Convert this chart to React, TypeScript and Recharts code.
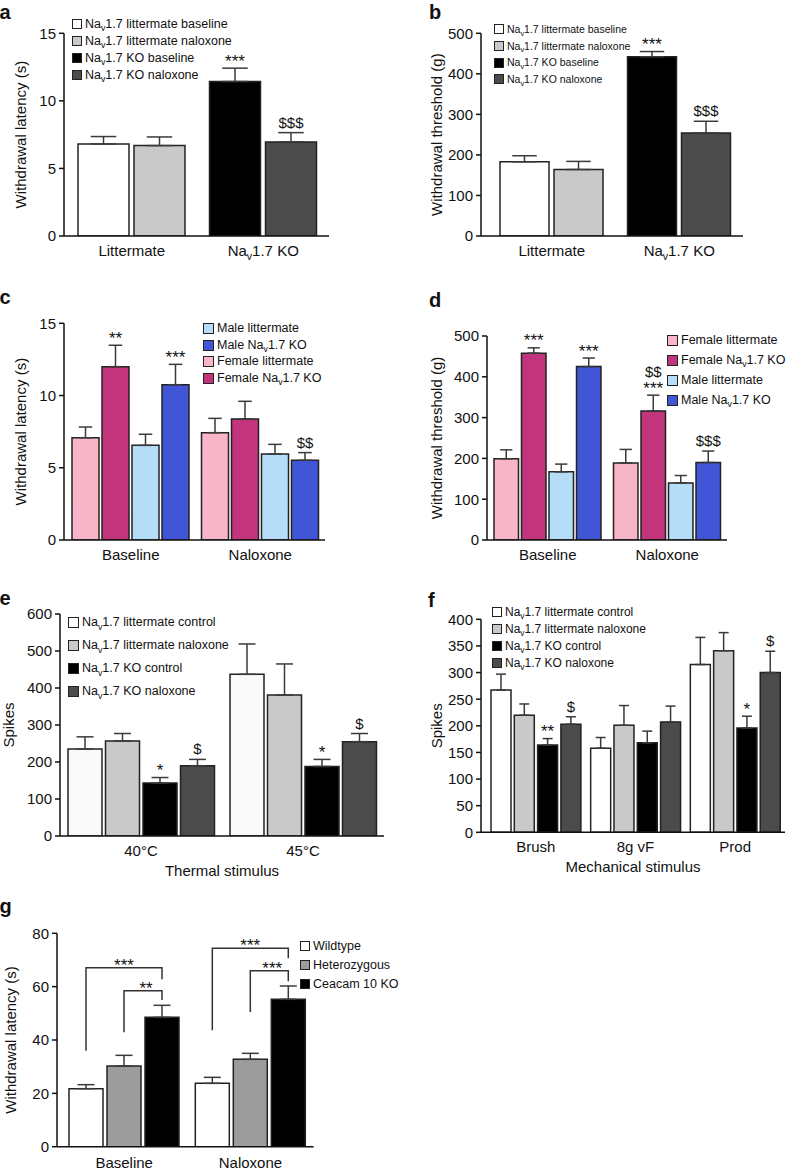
import React from 'react';
import { BarChart, Bar, XAxis, YAxis, ErrorBar, LabelList, Legend, Cell } from 'recharts';

const FONT = '"Liberation Sans", Arial, Helvetica, sans-serif';
const INK = '#111';

// ---------- colours
const WHITE = '#ffffff';
const LGRAY = '#c9c9c9';
const BLACK = '#000000';
const DGRAY = '#4b4b4b';
const PINK = '#f9b5c8';
const MAGENTA = '#c2347c';
const LBLUE = '#b6ddf7';
const BLUE = '#4156d6';
const MGRAY = '#9c9c9c';

// ---------- panel a (hot plate latency)
const aCategories = ['Littermate', 'Na_v1.7 KO'];
const aBaseline = [6.81, 11.43];
const aBaselineErr = [0.55, 0.99];
const aBaselineSig = ['', '***'];
const aNaloxone = [6.69, 6.96];
const aNaloxoneErr = [0.64, 0.69];
const aNaloxoneSig = ['', '$$$'];
const aTicks = [0, 5, 10, 15];
const abLegend = ['Na_v1.7 littermate baseline', 'Na_v1.7 littermate naloxone', 'Na_v1.7 KO baseline', 'Na_v1.7 KO naloxone'];

// ---------- panel b (Randall-Selitto threshold)
const bCategories = ['Littermate', 'Na_v1.7 KO'];
const bBaseline = [183, 442];
const bBaselineErr = [15, 13];
const bBaselineSig = ['', '***'];
const bNaloxone = [164, 254];
const bNaloxoneErr = [20, 29];
const bNaloxoneSig = ['', '$$$'];
const bTicks = [0, 100, 200, 300, 400, 500];

// ---------- panel c (latency by sex)
const cCategories = ['Baseline', 'Naloxone'];
const cFemaleLit = [7.08, 7.43];
const cFemaleLitErr = [0.74, 0.99];
const cFemaleKO = [12.0, 8.38];
const cFemaleKOErr = [1.48, 1.22];
const cFemaleKOSig = ['**', ''];
const cMaleLit = [6.55, 5.95];
const cMaleLitErr = [0.77, 0.67];
const cMaleKO = [10.75, 5.52];
const cMaleKOErr = [1.41, 0.53];
const cMaleKOSig = ['***', '$$'];
const cTicks = [0, 5, 10, 15];
const cLegend = ['Male littermate', 'Male Na_v1.7 KO', 'Female littermate', 'Female Na_v1.7 KO'];

// ---------- panel d (threshold by sex)
const dCategories = ['Baseline', 'Naloxone'];
const dFemaleLit = [199, 189];
const dFemaleLitErr = [22, 33];
const dFemaleKO = [458, 316];
const dFemaleKOErr = [13, 39];
const dFemaleKOSig = ['***', '$$\n***'];
const dMaleLit = [167, 140];
const dMaleLitErr = [19, 18];
const dMaleKO = [425, 190];
const dMaleKOErr = [21, 28];
const dMaleKOSig = ['***', '$$$'];
const dTicks = [0, 100, 200, 300, 400, 500];
const dLegend = ['Female littermate', 'Female Na_v1.7 KO', 'Male littermate', 'Male Na_v1.7 KO'];

// ---------- panel e (thermal spikes)
const eCategories = ['40°C', '45°C'];
const eLitCtrl = [235, 437];
const eLitCtrlErr = [33, 82];
const eLitNal = [257, 381];
const eLitNalErr = [20, 84];
const eKOCtrl = [143, 188];
const eKOCtrlErr = [15, 19];
const eKOCtrlSig = ['*', '*'];
const eKONal = [190, 255];
const eKONalErr = [17, 22];
const eKONalSig = ['$', '$'];
const eTicks = [0, 100, 200, 300, 400, 500, 600];
const efLegend = ['Na_v1.7 littermate control', 'Na_v1.7 littermate naloxone', 'Na_v1.7 KO control', 'Na_v1.7 KO naloxone'];

// ---------- panel f (mechanical spikes)
const fCategories = ['Brush', '8g vF', 'Prod'];
const fLitCtrl = [267, 158, 315];
const fLitCtrlErr = [30, 20, 51];
const fLitNal = [220, 201, 341];
const fLitNalErr = [21, 37, 34];
const fKOCtrl = [164, 168, 196];
const fKOCtrlErr = [12, 22, 22];
const fKOCtrlSig = ['**', '', '*'];
const fKONal = [203, 207, 300];
const fKONalErr = [14, 30, 40];
const fKONalSig = ['$', '', '$'];
const fTicks = [0, 50, 100, 150, 200, 250, 300, 350, 400];

// ---------- panel g (Ceacam10)
const gCategories = ['Baseline', 'Naloxone'];
const gWild = [21.75, 23.75];
const gWildErr = [1.5, 2.25];
const gHet = [30.25, 32.75];
const gHetErr = [4, 2.25];
const gKO = [48.5, 55.25];
const gKOErr = [4.5, 5];
const gTicks = [0, 20, 40, 60, 80];
const gLegend = ['Wildtype', 'Heterozygous', 'Ceacam 10 KO'];
// significance brackets (data units): wildtype vs KO, heterozygous vs KO
const gOuterTop = [67.1, 74.4];
const gOuterLeftEnd = [36, 43.7];
const gOuterRightEnd = [62.8, 70.6];
const gOuterSig = ['***', '***'];
const gInnerTop = [58.5, 66];
const gInnerLeftEnd = [42.9, 50.5];
const gInnerRightEnd = [55, 62];
const gInnerSig = ['**', '***'];

const none = (n: number) => Array(n).fill('');

type Series = { values: number[]; errors: number[]; sigs: string[]; colors: string[] };

// "Na_v1.7" -> Na with subscript v
const svgRich = (text: string, fs: number) => {
  const i = text.indexOf('_v');
  if (i < 0) return text;
  return [
    <tspan key="a">{text.slice(0, i)}</tspan>,
    <tspan key="b" fontSize={fs * 0.7} dy={fs * 0.3}>v</tspan>,
    <tspan key="c" fontSize={fs} dy={-fs * 0.3}>{text.slice(i + 2)}</tspan>,
  ];
};

const htmlRich = (text: string) => {
  const i = text.indexOf('_v');
  if (i < 0) return text;
  return (
    <>
      {text.slice(0, i)}
      <span style={{ fontSize: '0.7em', position: 'relative', top: '0.35em' }}>v</span>
      {text.slice(i + 2)}
    </>
  );
};

const XTick = (props: any) => {
  const { x, y, payload, fs } = props;
  return (
    <text x={x} y={y} dy={fs * 0.71} textAnchor="middle" fontSize={fs} fill={INK}>
      {svgRich(String(payload.value), fs)}
    </text>
  );
};

const boxOf = (props: any) => {
  const vb = props.viewBox || props;
  const h = Math.abs(vb.height);
  const y = Math.min(vb.y, vb.y + vb.height);
  return { x: vb.x, y, w: vb.width, h };
};

// significance marks above the error bars
const makeSig = (values: number[], errors: number[], sigs: string[]) => (props: any) => {
  const idx = props.index;
  const s = sigs[idx];
  if (!s) return null;
  const { x, y, w, h } = boxOf(props);
  const ppu = h / values[idx];
  const errTop = y - errors[idx] * ppu;
  const lines = s.split('\n').reverse();
  let base = errTop;
  return (
    <g>
      {lines.map((ln, k) => {
        const star = ln.startsWith('*');
        base = k === 0 ? errTop - (star ? 1.5 : 5) : base - 17;
        return (
          <text key={k} x={x + w / 2} y={base} textAnchor="middle" fontSize={star ? 17 : 15} fill={INK}>
            {ln}
          </text>
        );
      })}
    </g>
  );
};

const G_BAR = 34;
const G_GAP = 4;

const makeBrackets = (values: number[]) => (props: any) => {
  const idx = props.index;
  const { x, y, w, h } = boxOf(props);
  const ppu = h / values[idx];
  const base = y + h;
  const Y = (v: number) => base - v * ppu;
  const cx = x + w / 2;
  const step = w + G_GAP;
  const wx = cx - 2 * step;
  const hx = cx - step;
  const st = { stroke: '#333', strokeWidth: 1.5, fill: 'none' };
  return (
    <g>
      <polyline {...st} points={`${wx},${Y(gOuterLeftEnd[idx])} ${wx},${Y(gOuterTop[idx])} ${cx},${Y(gOuterTop[idx])} ${cx},${Y(gOuterRightEnd[idx])}`} />
      <polyline {...st} points={`${hx},${Y(gInnerLeftEnd[idx])} ${hx},${Y(gInnerTop[idx])} ${cx},${Y(gInnerTop[idx])} ${cx},${Y(gInnerRightEnd[idx])}`} />
      <text x={(wx + cx) / 2} y={Y(gOuterTop[idx]) + 3} textAnchor="middle" fontSize={17} fill={INK}>{gOuterSig[idx]}</text>
      <text x={(hx + cx) / 2 + 3} y={Y(gInnerTop[idx]) + 3} textAnchor="middle" fontSize={17} fill={INK}>{gInnerSig[idx]}</text>
    </g>
  );
};

const LegendBox = ({ items, fs, rowH, sq }: any) => (
  <div style={{ fontSize: fs, color: INK, fontFamily: FONT }}>
    {items.map((it: any) => (
      <div key={it.label} style={{ display: 'flex', alignItems: 'center', height: rowH, whiteSpace: 'nowrap' }}>
        <span style={{ width: sq, height: sq, background: it.color, border: '1px solid #222', boxSizing: 'border-box', marginRight: 3, flex: 'none' }} />
        <span style={{ lineHeight: 1 }}>{htmlRich(it.label)}</span>
      </div>
    ))}
  </div>
);

type PanelCfg = {
  id: string;
  left: number; top: number; w: number; h: number;
  plot: [number, number, number, number];
  labelX: number;
  yLabel: string;
  xLabel?: string;
  ticks: number[];
  categories: string[];
  series: Series[];
  barSize: number;
  barGap: number;
  padL: number;
  xh: number;
  tickMargin: number;
  legend: { items: { label: string; color: string }[]; x: number; y: number; rowH: number; fs: number; sq: number };
  brackets?: boolean;
};

const Panel = ({ cfg }: { cfg: PanelCfg }) => {
  const { left, top, w, h, plot, labelX } = cfg;
  const margin = {
    top: plot[1] - top,
    right: left + w - plot[2],
    bottom: top + h - plot[3] - cfg.xh,
    left: labelX - left,
  };
  const yw = plot[0] - labelX;
  const rows = cfg.categories.map((c, i) => {
    const r: any = { cat: c };
    cfg.series.forEach((s, k) => {
      r['v' + k] = s.values[i];
      r['e' + k] = [0, s.errors[i]];
      r['s' + k] = s.sigs[i];
    });
    return r;
  });
  const axisStyle = { stroke: INK, strokeWidth: 1.5 };
  const domainMax = cfg.ticks[cfg.ticks.length - 1];
  return (
    <div style={{ position: 'absolute', left, top }}>
      <BarChart width={w} height={h} data={rows} margin={margin} barGap={cfg.barGap} barSize={cfg.barSize}>
        <XAxis
          dataKey="cat"
          height={cfg.xh}
          interval={0}
          padding={{ left: cfg.padL, right: 0 }}
          tickLine={false}
          axisLine={axisStyle}
          tickSize={6}
          tickMargin={cfg.tickMargin}
          tick={(p: any) => <XTick {...p} fs={15} />}
          label={cfg.xLabel ? { value: cfg.xLabel, position: 'insideBottom', offset: 0, fontSize: 15, fill: INK } : undefined}
        />
        <YAxis
          type="number"
          width={yw}
          domain={[0, domainMax]}
          ticks={cfg.ticks}
          allowDataOverflow
          interval={0}
          tickSize={5}
          tickMargin={3}
          axisLine={axisStyle}
          tickLine={axisStyle}
          tick={{ fill: INK, fontSize: 15 }}
          label={{
            value: cfg.yLabel,
            angle: -90,
            position: 'insideLeft',
            offset: 0,
            fontSize: 15,
            fill: INK,
            style: { textAnchor: 'middle', fontSize: 15, fill: INK },
          }}
        />
        {cfg.series.map((s, k) => (
          <Bar key={k} dataKey={'v' + k} isAnimationActive={false} stroke="#222" strokeWidth={1.5}>
            {cfg.categories.map((_, i) => (
              <Cell key={i} fill={s.colors[i] ?? s.colors[0]} />
            ))}
            <ErrorBar dataKey={'e' + k} width={cfg.barSize * 0.25} stroke="#3a3a3a" strokeWidth={1.5} direction="y" />
            <LabelList
              dataKey={'s' + k}
              content={cfg.brackets && k === cfg.series.length - 1 ? makeBrackets(s.values) : makeSig(s.values, s.errors, s.sigs)}
            />
          </Bar>
        ))}
        <Legend
          layout="vertical"
          align="center"
          verticalAlign="middle"
          wrapperStyle={{ left: cfg.legend.x, top: cfg.legend.y, width: 'auto', height: 'auto' }}
          content={() => <LegendBox items={cfg.legend.items} fs={cfg.legend.fs} rowH={cfg.legend.rowH} sq={cfg.legend.sq} />}
        />
      </BarChart>
    </div>
  );
};

const legendItems = (labels: string[], colors: string[]) => labels.map((label, i) => ({ label, color: colors[i] }));

const panels: PanelCfg[] = [
  {
    id: 'a', left: 0, top: 0, w: 394, h: 290, plot: [64, 33.3, 329, 236], labelX: 20.7,
    yLabel: 'Withdrawal latency (s)', ticks: aTicks, categories: aCategories,
    series: [
      { values: aBaseline, errors: aBaselineErr, sigs: aBaselineSig, colors: [WHITE, BLACK] },
      { values: aNaloxone, errors: aNaloxoneErr, sigs: aNaloxoneSig, colors: [LGRAY, DGRAY] },
    ],
    barSize: 51, barGap: 5, padL: 2, xh: 30, tickMargin: 3,
    legend: { items: legendItems(abLegend, [WHITE, LGRAY, BLACK, DGRAY]), x: 72, y: 15.8, rowH: 17, fs: 12.5, sq: 10 },
  },
  {
    id: 'b', left: 394, top: 0, w: 394, h: 290, plot: [481, 33.3, 743, 236], labelX: 437,
    yLabel: 'Withdrawal threshold (g)', ticks: bTicks, categories: bCategories,
    series: [
      { values: bBaseline, errors: bBaselineErr, sigs: bBaselineSig, colors: [WHITE, BLACK] },
      { values: bNaloxone, errors: bNaloxoneErr, sigs: bNaloxoneSig, colors: [LGRAY, DGRAY] },
    ],
    barSize: 49, barGap: 5, padL: 7, xh: 30, tickMargin: 3,
    legend: { items: legendItems(abLegend, [WHITE, LGRAY, BLACK, DGRAY]), x: 100, y: 21, rowH: 16.7, fs: 10.5, sq: 10 },
  },
  {
    id: 'c', left: 0, top: 290, w: 394, h: 300, plot: [64, 323.3, 325, 540], labelX: 21,
    yLabel: 'Withdrawal latency (s)', ticks: cTicks, categories: cCategories,
    series: [
      { values: cFemaleLit, errors: cFemaleLitErr, sigs: none(2), colors: [PINK] },
      { values: cFemaleKO, errors: cFemaleKOErr, sigs: cFemaleKOSig, colors: [MAGENTA] },
      { values: cMaleLit, errors: cMaleLitErr, sigs: none(2), colors: [LBLUE] },
      { values: cMaleKO, errors: cMaleKOErr, sigs: cMaleKOSig, colors: [BLUE] },
    ],
    barSize: 27, barGap: 3, padL: 2, xh: 30, tickMargin: 3,
    legend: { items: legendItems(cLegend, [LBLUE, BLUE, PINK, MAGENTA]), x: 203, y: 30, rowH: 16.7, fs: 12.5, sq: 11 },
  },
  {
    id: 'd', left: 394, top: 290, w: 394, h: 300, plot: [487, 336, 727, 540], labelX: 437,
    yLabel: 'Withdrawal threshold (g)', ticks: dTicks, categories: dCategories,
    series: [
      { values: dFemaleLit, errors: dFemaleLitErr, sigs: none(2), colors: [PINK] },
      { values: dFemaleKO, errors: dFemaleKOErr, sigs: dFemaleKOSig, colors: [MAGENTA] },
      { values: dMaleLit, errors: dMaleLitErr, sigs: none(2), colors: [LBLUE] },
      { values: dMaleKO, errors: dMaleKOErr, sigs: dMaleKOSig, colors: [BLUE] },
    ],
    barSize: 24.5, barGap: 3, padL: 1, xh: 30, tickMargin: 3,
    legend: { items: legendItems(dLegend, [PINK, MAGENTA, LBLUE, BLUE]), x: 273, y: 40, rowH: 20, fs: 12.5, sq: 11 },
  },
  {
    id: 'e', left: 0, top: 580, w: 394, h: 300, plot: [60, 614, 384, 836], labelX: 9,
    yLabel: 'Spikes', xLabel: 'Thermal stimulus', ticks: eTicks, categories: eCategories,
    series: [
      { values: eLitCtrl, errors: eLitCtrlErr, sigs: none(2), colors: ['#fafafa'] },
      { values: eLitNal, errors: eLitNalErr, sigs: none(2), colors: [LGRAY] },
      { values: eKOCtrl, errors: eKOCtrlErr, sigs: eKOCtrlSig, colors: [BLACK] },
      { values: eKONal, errors: eKONalErr, sigs: eKONalSig, colors: [DGRAY] },
    ],
    barSize: 34, barGap: 3.5, padL: 0, xh: 40, tickMargin: 3,
    legend: { items: legendItems(efLegend, [WHITE, LGRAY, BLACK, DGRAY]), x: 68, y: 31.2, rowH: 23, fs: 12.5, sq: 11 },
  },
  {
    id: 'f', left: 394, top: 580, w: 394, h: 300, plot: [481, 619.3, 785, 832.3], labelX: 437,
    yLabel: 'Spikes', xLabel: 'Mechanical stimulus', ticks: fTicks, categories: fCategories,
    series: [
      { values: fLitCtrl, errors: fLitCtrlErr, sigs: none(3), colors: [WHITE] },
      { values: fLitNal, errors: fLitNalErr, sigs: none(3), colors: [LGRAY] },
      { values: fKOCtrl, errors: fKOCtrlErr, sigs: fKOCtrlSig, colors: [BLACK] },
      { values: fKONal, errors: fKONalErr, sigs: fKONalSig, colors: [DGRAY] },
    ],
    barSize: 20, barGap: 3.3, padL: 5, xh: 40, tickMargin: 3,
    legend: { items: legendItems(efLegend, [WHITE, LGRAY, BLACK, DGRAY]), x: 98, y: 23.2, rowH: 17, fs: 12, sq: 10 },
  },
  {
    id: 'g', left: 0, top: 880, w: 394, h: 291, plot: [57, 933.3, 313.6, 1146.7], labelX: 10.5,
    yLabel: 'Withdrawal latency (s)', ticks: gTicks, categories: gCategories,
    series: [
      { values: gWild, errors: gWildErr, sigs: none(2), colors: [WHITE] },
      { values: gHet, errors: gHetErr, sigs: none(2), colors: [MGRAY] },
      { values: gKO, errors: gKOErr, sigs: none(2), colors: [BLACK] },
    ],
    barSize: G_BAR, barGap: G_GAP, padL: 4, xh: 24, tickMargin: 5,
    legend: { items: legendItems(gLegend, [WHITE, MGRAY, BLACK]), x: 300, y: 56.5, rowH: 19, fs: 12.5, sq: 10 },
    brackets: true,
  },
];

const letters = [
  { t: 'a', x: -0.5, y: 19 },
  { t: 'b', x: 429, y: 19 },
  { t: 'c', x: -0.5, y: 304 },
  { t: 'd', x: 429, y: 306.7 },
  { t: 'e', x: -0.5, y: 605 },
  { t: 'f', x: 428, y: 606.7 },
  { t: 'g', x: -0.5, y: 913 },
];

export default function App() {
  return (
    <div style={{ position: 'absolute', left: 0, top: 0, width: 788, height: 1171, background: '#fff', fontFamily: FONT, color: INK, overflow: 'hidden' }}>
      {panels.map((p) => (
        <Panel key={p.id} cfg={p} />
      ))}
      <svg width={788} height={1171} style={{ position: 'absolute', left: 0, top: 0, pointerEvents: 'none' }}>
        {letters.map((l) => (
          <text key={l.t} x={l.x} y={l.y} fontSize={20} fontWeight="bold" fill={INK}>
            {l.t}
          </text>
        ))}
      </svg>
    </div>
  );
}
